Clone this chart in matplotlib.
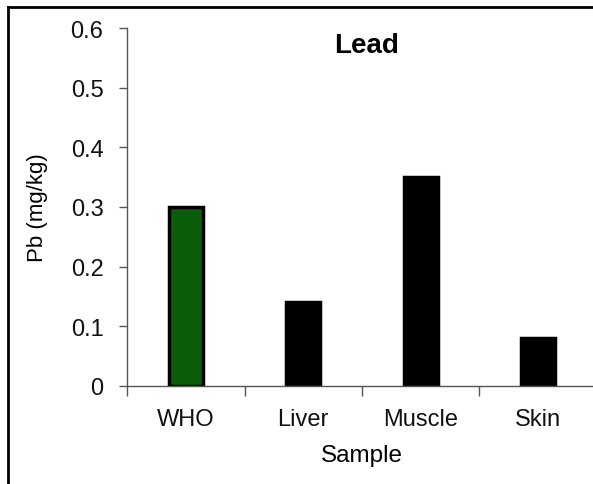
import matplotlib.pyplot as plt
import numpy as np
from matplotlib.lines import Line2D

plt.rcParams['font.family'] = ['Liberation Sans', 'DejaVu Sans']

samples = ['WHO', 'Liver', 'Muscle', 'Skin']
lead = [0.30, 0.14, 0.35, 0.08]
colors = ['#0a5e0a', 'black', 'black', 'black']
yticks = [0, 0.1, 0.2, 0.3, 0.4, 0.5, 0.6]
ytick_labels = ['0', '0.1', '0.2', '0.3', '0.4', '0.5', '0.6']

fig = plt.figure(figsize=(5.93, 4.85), dpi=100)
ax = fig.add_axes([127 / 593, 98 / 485, 470 / 593, 358 / 485])

x = np.arange(len(samples))
ax.bar(x, lead, width=0.29, color=colors, edgecolor='black', linewidth=2.5)

ax.set_xlim(-0.5, 3.5)
ax.set_ylim(0, 0.6)
ax.set_yticks(yticks)
ax.set_yticklabels(ytick_labels, fontsize=17, color='#111111')
ax.set_xticks(x)
ax.set_xticklabels(samples, fontsize=17, color='#111111')
ax.set_xticks(np.arange(-0.5, 3.5, 1), minor=True)
ax.tick_params(axis='x', which='major', length=0, pad=16)
ax.tick_params(axis='x', which='minor', length=7, color='#555555', width=1)
ax.tick_params(axis='y', length=6, color='#555555', width=1, pad=11)

for side in ['top', 'right']:
    ax.spines[side].set_visible(False)
for side in ['left', 'bottom']:
    ax.spines[side].set_color('#555555')
    ax.spines[side].set_linewidth(1)

ax.set_xlabel('Sample', fontsize=17.5, labelpad=10)
ax.set_ylabel('Pb (mg/kg)', fontsize=16, labelpad=16)
ax.text(0.51, 0.932, 'Lead', transform=ax.transAxes, fontsize=20,
        fontweight='bold', ha='center', va='baseline')

# frame lines at the top and left of the picture
fig.add_artist(Line2D([8 / 593, 1], [1 - 8 / 485, 1 - 8 / 485],
                      transform=fig.transFigure, color='black', lw=2))
fig.add_artist(Line2D([8 / 593, 8 / 593], [0, 1 - 8 / 485],
                      transform=fig.transFigure, color='black', lw=2))

fig.savefig('out.png', dpi=100)
